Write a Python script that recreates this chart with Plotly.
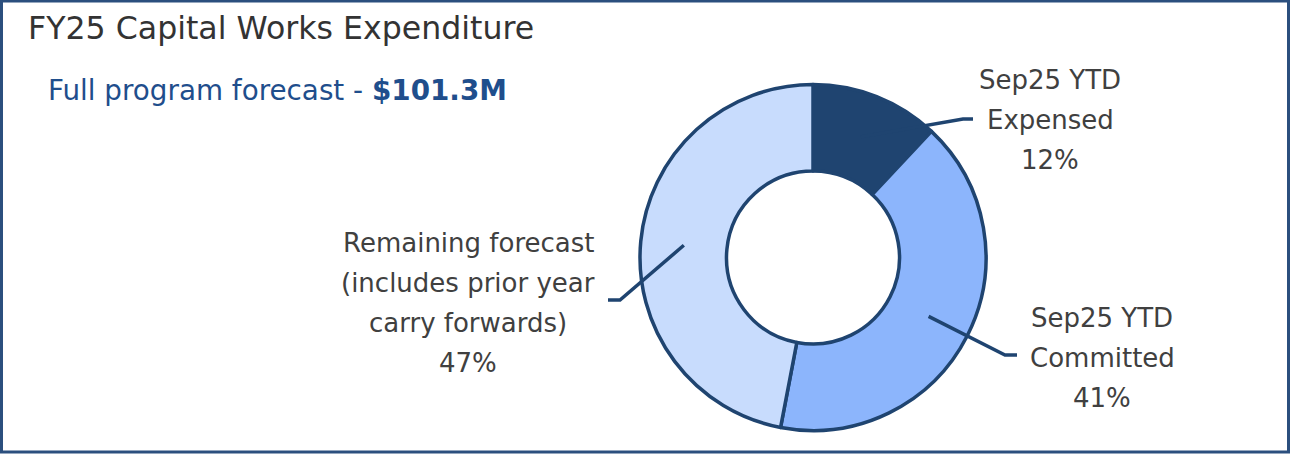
import math
import plotly.graph_objects as go

# ---- data ----
categories = ["Sep25 YTD Expensed", "Sep25 YTD Committed",
              "Remaining forecast (includes prior year carry forwards)"]
values = [12, 41, 47]
label_lines = [
    ["Sep25 YTD", "Expensed", "12%"],
    ["Sep25 YTD", "Committed", "41%"],
    ["Remaining forecast", "(includes prior year", "carry forwards)", "47%"],
]
title_text = "FY25 Capital Works Expenditure"
subtitle_text = "Full program forecast - "
subtitle_value = "$101.3M"

# ---- style / layout ----
W, H = 1291, 454
colors = ["#1F4470", "#8CB5FC", "#C8DCFD"]
edge = "#1F4470"
FONT = "DejaVu Sans"
cx, cy, R = 813, 257.5, 173
hole = 0.5
lab_pos = [
    dict(x=1050, y0=80, elbow=(963, 119), end=(973, 119)),
    dict(x=1102, y0=318, elbow=(1005, 355), end=(1017, 355)),
    dict(x=468, y0=243, elbow=(620, 300), end=(608, 300)),
]
line_gap = 40

fig = go.Figure()

fig.add_trace(go.Pie(
    labels=categories, values=values, hole=hole, sort=False,
    direction="clockwise", rotation=0,
    marker=dict(colors=colors, line=dict(color=edge, width=3.5)),
    textinfo="none", hoverinfo="label+percent", showlegend=False,
    domain=dict(x=[(cx - R) / W, (cx + R) / W],
                y=[(H - cy - R) / H, (H - cy + R) / H]),
))
fig.add_trace(go.Scatter(x=[0, W], y=[0, H], mode="markers",
                         marker=dict(opacity=0), hoverinfo="skip", showlegend=False))

# leader lines from mid-ring at each slice's mid angle
total = sum(values)
cum = 0
r_mid = R * (1 + hole) / 2
for v, lp, lines in zip(values, lab_pos, label_lines):
    mid = (cum + v / 2) / total * 2 * math.pi
    cum += v
    sx = cx + r_mid * math.sin(mid)
    sy = cy - r_mid * math.cos(mid)
    ex, ey = lp["elbow"]
    tx, ty = lp["end"]
    fig.add_shape(type="path", path=f"M {sx} {sy} L {ex} {ey} L {tx} {ty}",
                  line=dict(color=edge, width=3.5), layer="above",
                  xref="x", yref="y")
    for i, t in enumerate(lines):
        fig.add_annotation(x=lp["x"], y=lp["y0"] + i * line_gap, text=t,
                           showarrow=False, xanchor="center", yanchor="middle",
                           font=dict(family=FONT, size=26, color="#404040"))

fig.add_annotation(x=26, y=28, text=title_text, showarrow=False,
                   xanchor="left", yanchor="middle",
                   font=dict(family=FONT, size=31.6, color="#333333"))
fig.add_annotation(x=46, y=90, text=subtitle_text + "<b>" + subtitle_value + "</b>",
                   showarrow=False, xanchor="left", yanchor="middle",
                   font=dict(family=FONT, size=27.8, color="#1F4E8C"))

fig.add_shape(type="rect", x0=1.5, y0=1, x1=1288.5, y1=452,
              line=dict(color="#2B4F7E", width=3), layer="above",
              xref="x", yref="y")

fig.update_layout(
    width=W, height=H, margin=dict(l=0, r=0, t=0, b=0),
    paper_bgcolor="white", plot_bgcolor="rgba(0,0,0,0)",
    xaxis=dict(range=[0, W], visible=False, fixedrange=True, domain=[0, 1]),
    yaxis=dict(range=[H, 0], visible=False, fixedrange=True, domain=[0, 1]),
)
fig.write_html("out.html")
